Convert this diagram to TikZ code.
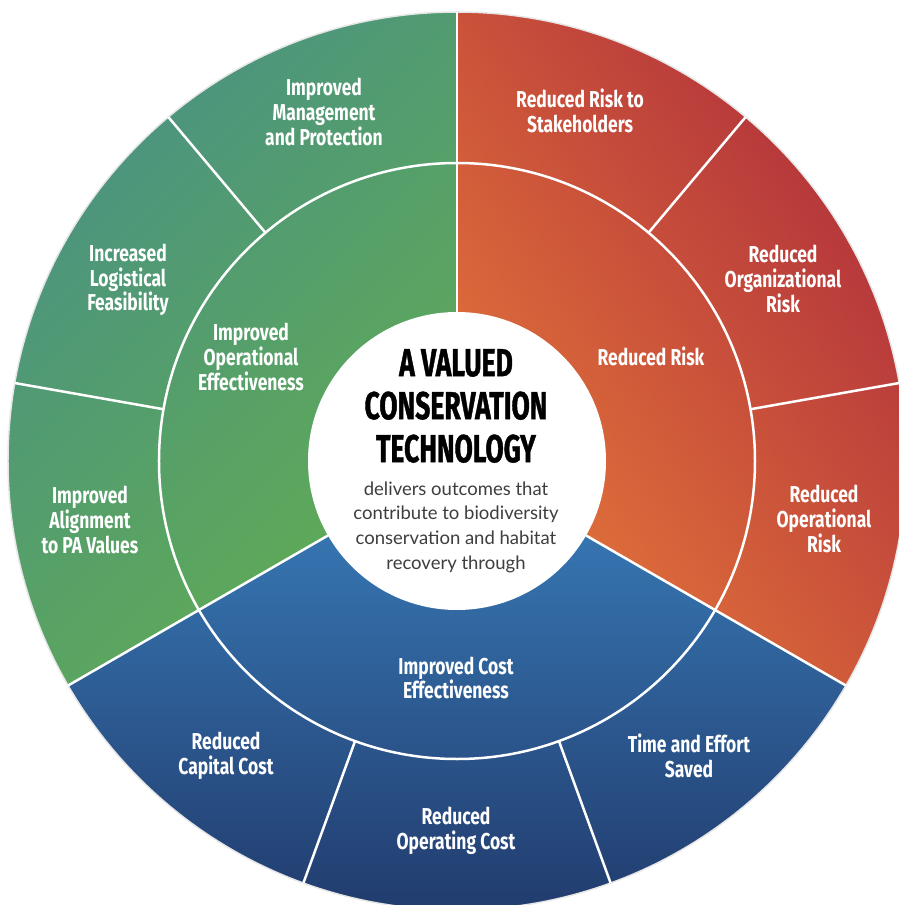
\documentclass[tikz,border=0pt]{standalone}
\usepackage{fontspec}
\usepackage{tikz}
\newfontfamily\ringfont[FakeStretch=0.76]{Fira Sans}
\newfontfamily\titlefont[FakeStretch=0.68, FakeBold=1]{Fira Sans}
\newfontfamily\subfont{Lato}
\definecolor{tealgreen}{HTML}{4A9282}
\definecolor{leafgreen}{HTML}{61AC53}
\definecolor{crimson}{HTML}{AC2A3B}
\definecolor{tangerine}{HTML}{E4763A}
\definecolor{skyblue}{HTML}{3A80BE}
\definecolor{navyblue}{HTML}{1E3262}
\definecolor{rimgray}{HTML}{E6E6E6}
\definecolor{subgray}{HTML}{3E3E3E}
\tikzstyle{every node}=[inner sep=0pt]
\tikzstyle{lbl}=[text=white, align=center, font=\ringfont\bfseries\fontsize{23}{24.7}\selectfont]
\tikzstyle{sep}=[white, line width=2.5pt]

\begin{document}
\begin{tikzpicture}[x=1pt,y=1pt]
	\useasboundingbox (-457,-444) rectangle (441,461);
	\shade[top color=tealgreen, middle color=leafgreen!90!tealgreen, bottom color=leafgreen, shading angle=45] (0,0) -- (90:449) arc[start angle=90, end angle=210, radius=449] -- cycle; % green third
	\shade[top color=crimson, middle color=tangerine!82!crimson, bottom color=tangerine, shading angle=-55] (0,0) -- (-30:449) arc[start angle=-30, end angle=90, radius=449] -- cycle; % red third
	\shade[top color=skyblue, bottom color=navyblue] (0,0) -- (210:449) arc[start angle=210, end angle=330, radius=449] -- cycle; % blue third
	\draw[rimgray, line width=1.5pt] (0,0) circle (449); % outer rim
	\draw[sep] (0,0) circle (298); % inner ring
	\draw[sep] (90:149) -- (90:449); \draw[sep] (210:149) -- (210:449); \draw[sep] (330:149) -- (330:449); % main splits
	\draw[sep] (130:298) -- (130:449); \draw[sep] (170:298) -- (170:449); % green splits
	\draw[sep] (50:298) -- (50:449); \draw[sep] (10:298) -- (10:449); % red splits
	\draw[sep] (250:298) -- (250:449); \draw[sep] (290:298) -- (290:449); % blue splits
	\fill[white] (0,0) circle (149); % hub
	% outer ring
	\node[lbl] (mgmt) at (-133,349) {Improved\\Management\\and Protection};
	\node[lbl] (logist) at (-329,181) {Increased\\Logistical\\Feasibility};
	\node[lbl] (align) at (-367,-59) {Improved\\Alignment\\to PA Values};
	\node[lbl] (stake) at (123,350) {Reduced Risk to\\Stakeholders};
	\node[lbl] (orgrisk) at (326,182) {Reduced\\Organizational\\Risk};
	\node[lbl] (oprisk) at (367,-58) {Reduced\\Operational\\Risk};
	\node[lbl] (timesaved) at (232,-295) {Time and Effort\\Saved};
	\node[lbl] (opcost) at (-1,-370) {Reduced\\Operating Cost};
	\node[lbl] (capcost) at (-231,-295) {Reduced\\Capital Cost};
	% inner ring
	\node[lbl] (opeff) at (-206,104) {Improved\\Operational\\Effectiveness};
	\node[lbl] (risk) at (194,105) {Reduced Risk};
	\node[lbl] (costeff) at (-1,-217) {Improved Cost\\Effectiveness};
	% hub text
	\node[align=center, text=black, font=\titlefont\bfseries\fontsize{39}{43}\selectfont] (title) at (-1,55) {A VALUED\\CONSERVATION\\TECHNOLOGY};
	\node[align=center, text=subgray, font=\subfont\fontsize{18.5}{24.7}\selectfont] (subtitle) at (-1,-66) {delivers outcomes that\\contribute to biodiversity\\conservation and habitat\\recovery through};
\end{tikzpicture}
\end{document}
